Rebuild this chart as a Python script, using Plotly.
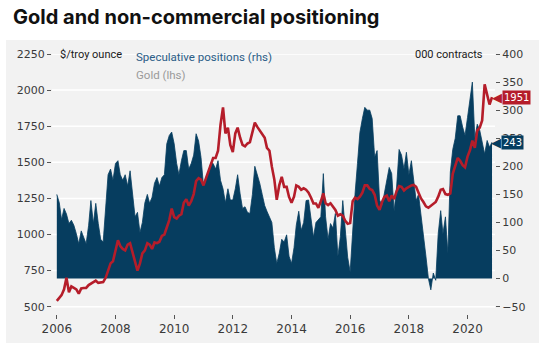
import plotly.graph_objects as go
import pandas as pd

# ---------------- data (monthly, Jan 2006 .. Nov 2020) ----------------
start_month = "2006-01-01"
n_months = 179

spec_positions = [  # 000 contracts, right axis
    150, 135, 105, 125, 115, 98, 104, 95, 80, 62, 85, 75,
    62, 95, 139, 98, 134, 98, 70, 65, 130, 185, 195, 175,
    205, 210, 185, 175, 185, 165, 192, 155, 110, 118, 82, 100,
    135, 150, 134, 145, 170, 180, 165, 180, 185, 240, 255, 261,
    240, 205, 185, 210, 228, 228, 195, 205, 220, 258, 245, 216,
    165, 180, 190, 205, 205, 195, 210, 175, 160, 135, 160, 140,
    140, 160, 185, 151, 125, 128, 118, 116, 150, 200, 185, 170,
    150, 130, 120, 110, 100, 55, 27, 45, 70, 65, 78, 40,
    27, 55, 95, 120, 86, 100, 139, 140, 110, 74, 100, 105,
    110, 187, 110, 70, 98, 90, 116, 40, 75, 139, 86, 38,
    12, 90, 150, 205, 260, 285, 305, 300, 300, 285, 216, 228,
    140, 130, 150, 175, 198, 187, 120, 163, 230, 220, 195, 225,
    185, 210, 170, 139, 150, 116, 78, 40, 0, -20, 10, -3,
    80, 121, 80, 110, 45, 190, 230, 250, 290, 290, 270, 255,
    287, 320, 350, 250, 275, 264, 240, 222, 246, 234, 243,
]

gold_price = [  # $/troy ounce, left axis
    540, 560, 580, 620, 700, 600, 640, 630, 620, 590, 627, 630,
    630, 650, 660, 675, 680, 665, 670, 670, 700, 745, 800, 815,
    880, 960, 920, 900, 890, 930, 940, 870, 820, 750, 800, 870,
    890, 940, 930, 900, 945, 940, 950, 990, 1000, 1050, 1100, 1180,
    1120, 1110, 1130, 1140, 1220, 1245, 1200, 1230, 1280, 1370, 1390, 1380,
    1340, 1390, 1430, 1480, 1530, 1530, 1580, 1760, 1880, 1700, 1740, 1620,
    1570, 1700, 1740, 1670, 1620, 1610, 1630, 1640, 1720, 1775, 1745, 1720,
    1690, 1670, 1600, 1580, 1470, 1380, 1240, 1340, 1400, 1330, 1330, 1260,
    1220, 1262, 1340, 1330, 1310, 1320, 1310, 1290, 1255, 1215, 1215, 1185,
    1230, 1285, 1216, 1204, 1216, 1195, 1170, 1130, 1140, 1130, 1095, 1075,
    1080, 1230, 1255, 1245, 1262, 1290, 1340, 1340, 1315, 1308, 1275, 1200,
    1170, 1225, 1260, 1270, 1230, 1270, 1245, 1300, 1335, 1330, 1305, 1320,
    1331, 1340, 1343, 1330, 1290, 1250, 1225, 1195, 1185, 1200, 1212, 1225,
    1262, 1310, 1315, 1280, 1275, 1285, 1420, 1480, 1530, 1510, 1480, 1465,
    1540, 1585, 1650, 1600, 1720, 1740, 1790, 2040, 1960, 1900, 1951,
]

dates = pd.date_range(start_month, periods=n_months, freq="MS")

left_ticks = [500, 750, 1000, 1250, 1500, 1750, 2000, 2250]
right_ticks = [-50, 0, 50, 100, 150, 200, 250, 300, 350, 400]

title_text = "Gold and non-commercial positioning"
spec_label = "Speculative positions (rhs)"
gold_label = "Gold (lhs)"
left_unit = "$/troy ounce"
right_unit = "000 contracts"

# ---------------- styles ----------------
W, H = 545, 350
ML, MR, MT, MB = 52, 50, 54, 36
PW, PH = W - ML - MR, H - MT - MB
AREA = "#063d5f"
RED = "#b51d2a"
PANEL = "#f2f2f2"
TICKFONT = dict(family="DejaVu Sans", size=11, color="#3a3a3a")


def px(x):
    return (x - ML) / PW


def py(y):
    return 1 - (y - MT) / PH


fig = go.Figure()
# base axis "y" = positions (right side); overlay "y2" = gold (left side, drawn on top)
fig.add_trace(go.Scatter(
    x=dates, y=spec_positions, yaxis="y", mode="lines",
    line=dict(color=AREA, width=0.8),
    fill="tozeroy", fillcolor=AREA, name=spec_label, hoverinfo="skip",
))
fig.add_trace(go.Scatter(
    x=dates, y=gold_price, yaxis="y2", mode="lines",
    line=dict(color=RED, width=2.6), name=gold_label, hoverinfo="skip",
))

annotations = [
    dict(text=left_unit, x=px(58), y=py(54), xanchor="left", yanchor="middle",
         font=dict(family="Roboto", size=11, color="#1a1a1a")),
    dict(text=spec_label, x=px(134), y=py(57), xanchor="left", yanchor="middle",
         font=dict(family="Roboto", size=11.5, color="#2b5d87")),
    dict(text=gold_label, x=px(134), y=py(75), xanchor="left", yanchor="middle",
         font=dict(family="Roboto", size=11.5, color="#9a9a9a")),
    dict(text=right_unit, x=px(485), y=py(54), xanchor="right", yanchor="middle",
         font=dict(family="Roboto", size=11, color="#1a1a1a")),
    # end-value labels
    dict(text="◀", x=px(504), y=gold_price[-1], yref="y2",
         xanchor="right", yanchor="middle", font=dict(size=13, color=RED)),
    dict(text=f"{gold_price[-1]:.0f}", x=px(502), y=gold_price[-1], yref="y2",
         xanchor="left", yanchor="middle", bgcolor=RED, borderpad=1,
         font=dict(family="DejaVu Sans", size=10, color="white")),
    dict(text="◀", x=px(503), y=spec_positions[-1], yref="y",
         xanchor="right", yanchor="middle", font=dict(size=13, color=AREA)),
    dict(text=f"{spec_positions[-1]:.0f}", x=px(501), y=spec_positions[-1], yref="y",
         xanchor="left", yanchor="middle", bgcolor=AREA, borderpad=1,
         font=dict(family="DejaVu Sans", size=10, color="white")),
]
for a in annotations:
    a.setdefault("xref", "paper")
    a.setdefault("yref", "paper")
    a["showarrow"] = False

fig.update_layout(
    width=W, height=H,
    margin=dict(l=ML, r=MR, t=MT, b=MB),
    paper_bgcolor="white", plot_bgcolor=PANEL,
    showlegend=False,
    title=dict(text=f"<b>{title_text}</b>", x=13 / W, xref="container", xanchor="left",
               y=1 - 17 / H, yref="container", yanchor="middle",
               font=dict(family="Inter", size=20, color="#111111")),
    xaxis=dict(
        range=["2005-11-02", "2020-12-08"],
        tick0="2006-01-01", dtick="M24", tickformat="%Y",
        ticks="outside", ticklen=4, tickcolor="#555555", tickwidth=1,
        showgrid=False, zeroline=False, showline=False,
        tickfont=dict(family="DejaVu Sans", size=12, color="#3a3a3a"),
    ),
    yaxis=dict(
        range=[-63, 400], tickvals=right_ticks, side="right",
        ticks="outside", ticklen=4, tickcolor="#555555",
        showgrid=False, zeroline=False, showline=False, tickfont=TICKFONT,
    ),
    yaxis2=dict(
        range=[449.5, 2250], tickvals=left_ticks, overlaying="y", side="left",
        ticks="outside", ticklen=4, tickcolor="#555555",
        showgrid=False, zeroline=False, showline=False, tickfont=TICKFONT,
    ),
    annotations=annotations,
    shapes=[dict(type="rect", xref="paper", yref="paper",
                 x0=px(6), x1=px(539), y0=py(343), y1=py(40),
                 fillcolor=PANEL, line=dict(width=0), layer="below")]
    + [dict(type="line", xref="paper", yref="y2", x0=0, x1=1, y0=v, y1=v,
            line=dict(color="white", width=1.5), layer="below") for v in left_ticks],
)

fig.write_html("out.html")
